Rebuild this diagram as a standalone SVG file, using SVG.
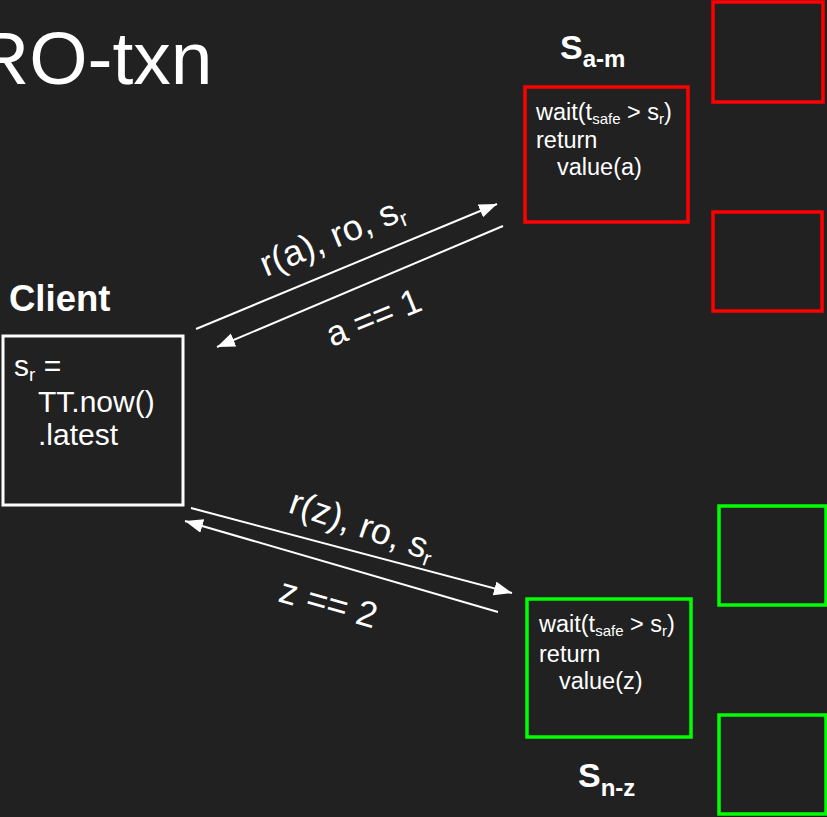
<svg xmlns="http://www.w3.org/2000/svg" width="827" height="817" viewBox="0 0 827 817">
<defs>
<style>
.t{font-family:"Liberation Sans",Arial,sans-serif;fill:#fff}
.b{font-weight:bold}
.ln{stroke:#fff;stroke-width:2;fill:none}
.red{fill:none;stroke:#ff0000;stroke-width:3.5}
.grn{fill:none;stroke:#00ff00;stroke-width:3.5}
.wht{fill:none;stroke:#fff;stroke-width:3}
</style>
<marker id="ah" markerUnits="userSpaceOnUse" markerWidth="20" markerHeight="16" refX="18" refY="7" orient="auto">
<path d="M0,0 L18,7 L0,14 Z" fill="#fff"/>
</marker>
</defs>
<rect width="827" height="817" fill="#212121"/>
<text class="t" x="-25" y="84" font-size="75">RO-txn</text>

<g id="client">
<text class="t b" x="9" y="311" font-size="36.5">Client</text>
<rect class="wht" x="3" y="336" width="180" height="169"/>
<text class="t" font-size="30"><tspan x="14" y="376">s<tspan font-size="19" dy="5">r</tspan><tspan dy="-5"> =</tspan></tspan><tspan x="38" y="412">TT.now()</tspan><tspan x="38" y="445">.latest</tspan></text>
</g>

<g id="server-am">
<text class="t b" x="560" y="59" font-size="34">S<tspan font-size="24" dy="8">a-m</tspan></text>
<rect class="red" x="525" y="87" width="163" height="135"/>
<text class="t" font-size="23.5"><tspan x="536" y="120">wait(t<tspan font-size="15" dy="4">safe</tspan><tspan dy="-4"> &gt; s</tspan><tspan font-size="15" dy="4">r</tspan><tspan dy="-4">)</tspan></tspan><tspan x="536" y="148">return</tspan><tspan x="557" y="175">value(a)</tspan></text>
</g>
<g id="red-2"><rect class="red" x="713" y="2" width="110" height="100"/></g>
<g id="red-3"><rect class="red" x="713" y="212" width="109" height="99"/></g>

<g id="server-nz">
<rect class="grn" x="527" y="599" width="164" height="138"/>
<text class="t" font-size="23.5"><tspan x="539" y="632">wait(t<tspan font-size="15" dy="4">safe</tspan><tspan dy="-4"> &gt; s</tspan><tspan font-size="15" dy="4">r</tspan><tspan dy="-4">)</tspan></tspan><tspan x="539" y="662">return</tspan><tspan x="559" y="689">value(z)</tspan></text>
<text class="t b" x="578" y="787" font-size="34">S<tspan font-size="24" dy="9">n-z</tspan></text>
</g>
<g id="green-2"><rect class="grn" x="719" y="506" width="107" height="99"/></g>
<g id="green-3"><rect class="grn" x="719" y="715" width="107" height="99"/></g>

<g id="connectors">
<line class="ln" x1="196" y1="329" x2="497" y2="204" marker-end="url(#ah)"/>
<line class="ln" x1="503" y1="226" x2="217" y2="347" marker-end="url(#ah)"/>
<line class="ln" x1="191" y1="508" x2="512" y2="593" marker-end="url(#ah)"/>
<line class="ln" x1="498" y1="612" x2="185" y2="521" marker-end="url(#ah)"/>
<text class="t" font-size="36" transform="translate(266,277) rotate(-22.5)">r(a), ro, s<tspan font-size="22" dy="6">r</tspan></text>
<text class="t" font-size="35" transform="translate(332,347) rotate(-22)">a == 1</text>
<text class="t" font-size="36" transform="translate(287,512) rotate(19)">r(z), ro, s<tspan font-size="22" dy="6">r</tspan></text>
<text class="t" font-size="36" transform="translate(277,601) rotate(16)">z == 2</text>
</g>
</svg>
